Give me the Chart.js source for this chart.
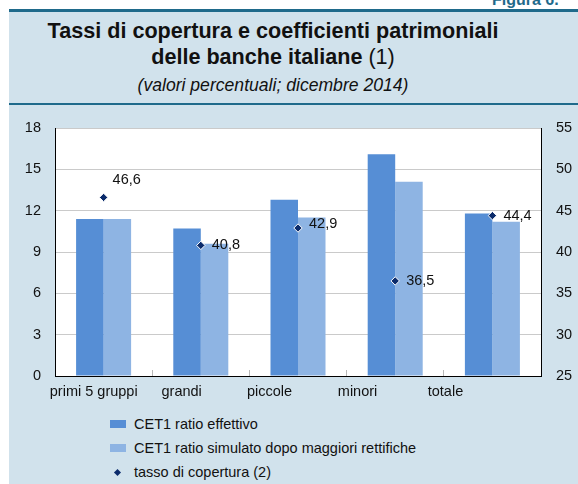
<!DOCTYPE html>
<html><head><meta charset="utf-8">
<script src="https://cdn.jsdelivr.net/npm/chart.js@4/dist/chart.umd.min.js"></script>
<style>
html,body{margin:0;padding:0;background:#fff;width:578px;height:484px;overflow:hidden;font-family:"Liberation Sans",Arial,sans-serif;}
#panel{position:absolute;left:9px;top:9px;width:569px;height:475px;background:#d1e2ec;}
#topline{position:absolute;left:9px;top:9px;width:569px;height:3px;background:#1f6a8b;}
#hdrline{position:absolute;left:9px;top:103px;width:569px;height:2px;background:#1f6a8b;}
#fig{position:absolute;left:492px;top:-8px;font-weight:bold;font-size:16px;line-height:16px;color:#1f6a8b;white-space:nowrap;}
.t{position:absolute;left:0;width:546px;text-align:center;color:#111;white-space:nowrap;}
#t1{top:18px;font-size:21.6px;line-height:26px;font-weight:bold;}
#t3{top:75px;font-size:17.6px;line-height:20px;font-style:italic;}
#legend{position:absolute;left:0;top:0;}
.li{position:absolute;left:134px;font-size:14.5px;line-height:16px;color:#111;white-space:nowrap;}
.box{position:absolute;width:16px;height:8px;}
.dia{position:absolute;width:5px;height:5px;background:#0b2b6b;transform:rotate(45deg);}
canvas{position:absolute;left:0;top:0;}
</style></head>
<body>
<div id="panel"></div>
<div id="topline"></div>
<div id="hdrline"></div>
<div id="fig">Figura 6.</div>
<div class="t" id="t1">Tassi di copertura e coefficienti patrimoniali<br>delle banche italiane <span style="font-weight:normal">(1)</span></div>
<div class="t" id="t3">(valori percentuali; dicembre 2014)</div>
<div id="legend"></div>
<canvas id="c" width="578" height="484"></canvas>
<script>
const categories = ["primi 5 gruppi", "grandi", "piccole", "minori", "totale"];
const cet1Effettivo = [11.4, 10.7, 12.8, 16.1, 11.8];
const cet1Simulato = [11.4, 9.6, 11.5, 14.1, 11.2];
const tassoCopertura = [46.6, 40.8, 42.9, 36.5, 44.4];
const seriesNames = ["CET1 ratio effettivo", "CET1 ratio simulato dopo maggiori rettifiche", "tasso di copertura (2)"];
const leftTicks = [0, 3, 6, 9, 12, 15, 18];
const rightTicks = [25, 30, 35, 40, 45, 50, 55];

const COL_DARK = "#568ed5";
const COL_LIGHT = "#8eb4e3";
const COL_DIA = "#0b2b6b";
const FONT = "'Liberation Sans', Arial, sans-serif";

// legend (HTML)
(function(){
  const lg = document.getElementById('legend');
  const rows = [424, 448, 472];
  const cols = [COL_DARK, COL_LIGHT, null];
  seriesNames.forEach((n, i) => {
    const t = document.createElement('div');
    t.className = 'li'; t.style.top = (rows[i] - 8) + 'px'; t.textContent = n;
    lg.appendChild(t);
    if (cols[i]) {
      const b = document.createElement('div');
      b.className = 'box'; b.style.left = '110px'; b.style.top = (rows[i] - 4) + 'px'; b.style.background = cols[i];
      lg.appendChild(b);
    } else {
      const d = document.createElement('div');
      d.className = 'dia'; d.style.left = '115px'; d.style.top = (rows[i] - 2.5) + 'px';
      lg.appendChild(d);
    }
  });
})();

const plotBg = {
  id: 'plotBg',
  beforeDraw(chart) {
    const {ctx, chartArea: a} = chart;
    ctx.save(); ctx.fillStyle = '#fff';
    ctx.fillRect(a.left, a.top, a.right - a.left, a.bottom - a.top);
    ctx.restore();
  }
};

const labelOffsets = [[9, -17], [11, 0], [11, -4], [11, 0], [11, 0]];
const pointLabels = {
  id: 'pointLabels',
  afterDatasetsDraw(chart) {
    const ctx = chart.ctx;
    const meta = chart.getDatasetMeta(2);
    ctx.save();
    ctx.font = '14.5px ' + FONT;
    ctx.fillStyle = '#111';
    ctx.textAlign = 'left';
    ctx.textBaseline = 'middle';
    meta.data.forEach((pt, i) => {
      const v = chart.data.datasets[2].data[i];
      const o = labelOffsets[i];
      ctx.fillText(v.toFixed(1).replace('.', ','), pt.x + o[0], pt.y + o[1]);
    });
    ctx.restore();
  }
};

new Chart(document.getElementById('c'), {
  data: {
    labels: categories,
    datasets: [
      {type: 'bar', label: seriesNames[0], data: cet1Effettivo, backgroundColor: COL_DARK, borderWidth: 0, xAxisID: 'x', yAxisID: 'y', categoryPercentage: 0.566, barPercentage: 1, order: 2},
      {type: 'bar', label: seriesNames[1], data: cet1Simulato, backgroundColor: COL_LIGHT, borderWidth: 0, xAxisID: 'x', yAxisID: 'y', categoryPercentage: 0.566, barPercentage: 1, order: 2},
      {type: 'line', label: seriesNames[2], data: tassoCopertura, showLine: false, pointStyle: 'rectRot', pointRadius: 4.2, pointBackgroundColor: COL_DIA, pointBorderColor: '#fff', pointBorderWidth: 1, xAxisID: 'x', yAxisID: 'y2', order: 1}
    ]
  },
  options: {
    responsive: false,
    animation: false,
    devicePixelRatio: 1,
    layout: {padding: {top: 128, left: 0, right: 0, bottom: 0}, autoPadding: false},
    plugins: {legend: {display: false}, tooltip: {enabled: false}},
    scales: {
      x: {
        type: 'category', position: 'bottom', offset: true, weight: 0,
        grid: {display: true, offset: true, drawOnChartArea: false, drawTicks: true, tickLength: -6, color: '#b8b8b8'},
        border: {display: true, color: '#000', width: 1},
        ticks: {display: false},
        afterFit(s) { s.height = 0; }
      },
      x2: {
        type: 'linear', position: 'bottom', weight: 1, min: -0.44, max: 5.086,
        grid: {display: false, drawTicks: false},
        border: {display: false},
        afterBuildTicks(s) { s.ticks = categories.map((c, i) => ({value: i})); },
        ticks: {autoSkip: false, maxRotation: 0, padding: 7, color: '#111', font: {size: 14.5, family: FONT},
          callback: (v) => categories[v]},
        afterFit(s) { s.height = 108; }
      },
      y: {
        type: 'linear', position: 'left', min: 0, max: 18,
        afterBuildTicks(s) { s.ticks = leftTicks.map(v => ({value: v})); },
        grid: {color: '#cacaca', drawTicks: false, lineWidth: 1},
        border: {display: true, color: '#000', width: 1},
        ticks: {padding: 14, color: '#111', font: {size: 14.5, family: FONT}},
        afterFit(s) { s.width = 55; }
      },
      y2: {
        type: 'linear', position: 'right', min: 25, max: 55,
        afterBuildTicks(s) { s.ticks = rightTicks.map(v => ({value: v})); },
        grid: {display: false, drawTicks: false},
        border: {display: true, color: '#000', width: 1},
        ticks: {padding: 15, color: '#111', font: {size: 14.5, family: FONT}},
        afterFit(s) { s.width = 37; }
      }
    }
  },
  plugins: [plotBg, pointLabels]
});
</script>
</body></html>
